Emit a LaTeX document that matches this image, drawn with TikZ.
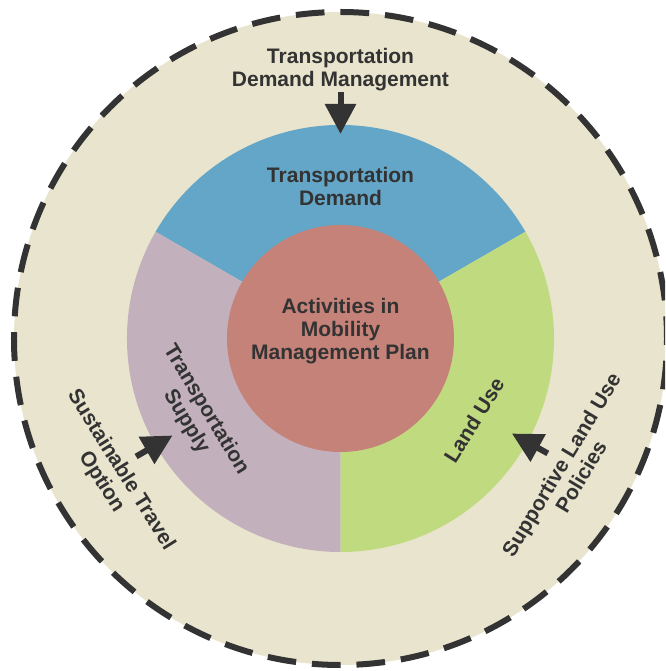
\documentclass[tikz,border=0pt]{standalone}
\usepackage{fontspec}
\setmainfont{Liberation Sans}
\usetikzlibrary{arrows.meta}
\definecolor{beige}{RGB}{233,228,205}
\definecolor{tdblue}{RGB}{99,166,199}
\definecolor{tspurple}{RGB}{194,176,188}
\definecolor{lugreen}{RGB}{192,218,128}
\definecolor{corered}{RGB}{197,130,121}
\definecolor{ink}{RGB}{51,51,51}
\tikzset{
  lbl/.style={text=ink, align=center, font=\fontsize{21}{23}\selectfont\bfseries, inner sep=0pt},
  pusharrow/.style={draw=ink, line width=6pt, -{Triangle[length=30pt,width=30pt]}}
}
\begin{document}
\begin{tikzpicture}[x=1pt,y=1pt]
\useasboundingbox (-340.5,-332.5) rectangle (324.5,338.5);
\clip (-340.5,-332.5) rectangle (324.5,338.5);
% outer ring
\fill[beige] (0,0) circle[radius=326.5pt];
\draw[ink, line width=6pt, dash pattern=on 28.7pt off 15.9pt]
  (90:326.5pt) arc[start angle=90, end angle=-270, radius=326.5pt];
% sectors
\fill[tdblue] (0,0) -- (30:213.5pt) arc[start angle=30, end angle=150, radius=213.5pt] -- cycle;
\fill[tspurple] (0,0) -- (150:213.5pt) arc[start angle=150, end angle=270, radius=213.5pt] -- cycle;
\fill[lugreen] (0,0) -- (270:213.5pt) arc[start angle=270, end angle=390, radius=213.5pt] -- cycle;
% core
\node[circle, fill=corered, minimum size=227pt, inner sep=0pt] (core) at (0,0) {};
% labels
\node[lbl] (corelbl) at (0,7) {Activities in\\Mobility\\Management Plan};
\node[lbl] (demand) at (0,152) {Transportation\\Demand};
\node[lbl, rotate=-59] (supply) at (-144.5,-77) {Transportation\\Supply};
\node[lbl, rotate=58] (landuse) at (133.5,-81.5) {Land Use};
\node[lbl] (tdm) at (0,268.5) {Transportation\\Demand Management};
\node[lbl, rotate=-58] (sto) at (-229.5,-137.5) {Sustainable Travel\\Option};
\node[lbl, rotate=59] (slup) at (230.5,-132.5) {Supportive Land Use\\Policies};
% arrows
\coordinate (tdmA) at (90:246pt);
\coordinate (tdmB) at (90:204.5pt);
\coordinate (stoA) at (210:236pt);
\coordinate (stoB) at (210:194pt);
\coordinate (slupA) at (331:237pt);
\coordinate (slupB) at (331:196pt);
\draw[pusharrow] (tdmA) -- (tdmB);
\draw[pusharrow] (stoA) -- (stoB);
\draw[pusharrow] (slupA) -- (slupB);
\end{tikzpicture}
\end{document}
